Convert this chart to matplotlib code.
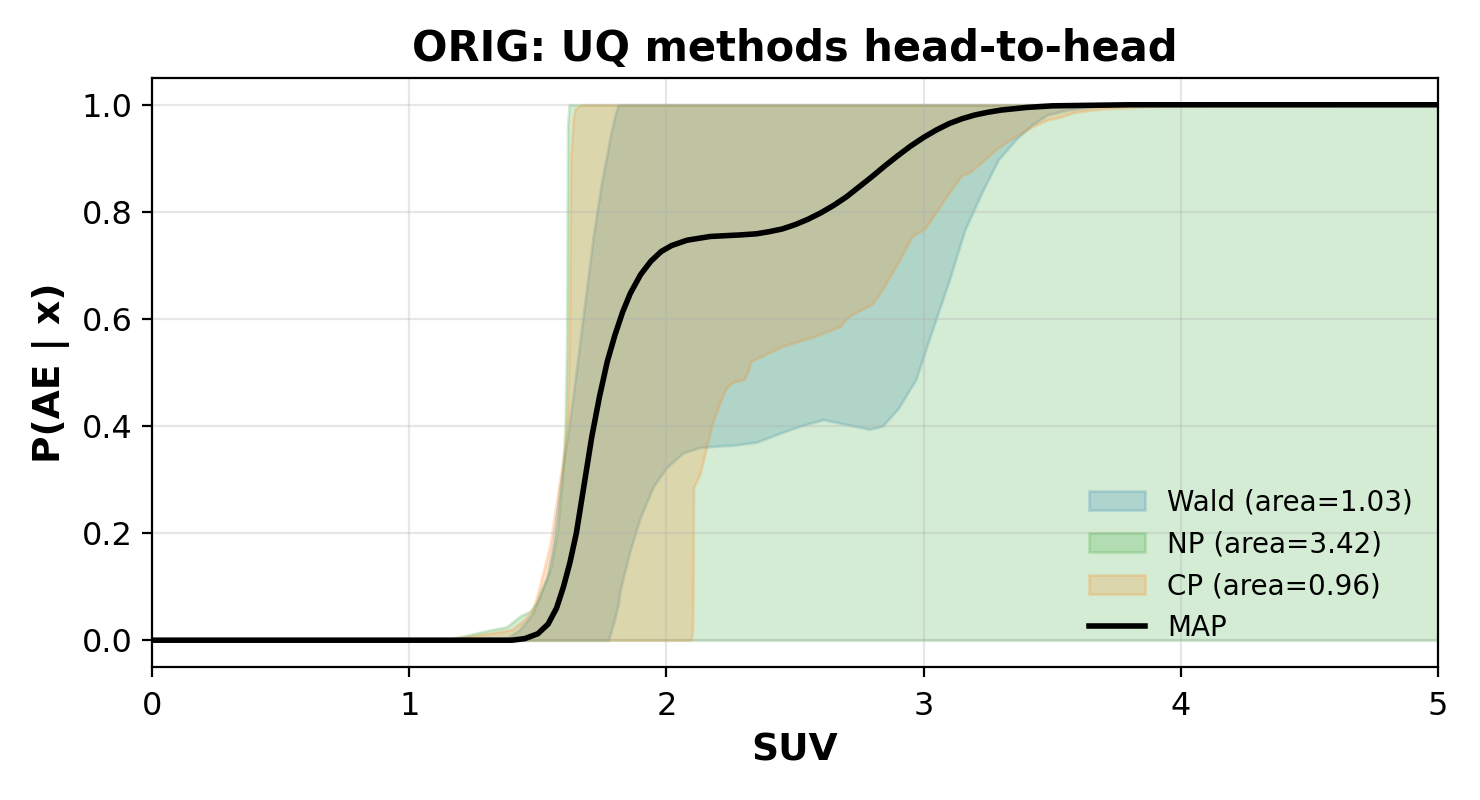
import matplotlib
matplotlib.use("Agg")
import matplotlib.pyplot as plt

# ---------------- data ----------------
# MAP curve
map_x = [0.0, 1.0, 1.40, 1.45, 1.50, 1.54, 1.573, 1.60, 1.625, 1.65, 1.68, 1.71, 1.74,
         1.77, 1.80, 1.83, 1.86, 1.90, 1.94, 1.98, 2.02, 2.08, 2.17, 2.29, 2.35, 2.40,
         2.45, 2.50, 2.55, 2.60, 2.65, 2.70, 2.75, 2.80, 2.85, 2.90, 2.95, 3.00, 3.05,
         3.10, 3.15, 3.20, 3.25, 3.30, 3.40, 3.50, 3.65, 3.80, 5.0]
map_y = [0.0, 0.0, 0.0, 0.003, 0.012, 0.03, 0.06, 0.10, 0.145, 0.20, 0.29, 0.38, 0.455,
         0.52, 0.57, 0.613, 0.648, 0.683, 0.708, 0.726, 0.737, 0.747, 0.754, 0.757, 0.759, 0.763,
         0.768, 0.776, 0.786, 0.798, 0.812, 0.828, 0.847, 0.866, 0.886, 0.905, 0.923, 0.939, 0.953,
         0.965, 0.974, 0.981, 0.986, 0.990, 0.995, 0.998, 0.999, 1.0, 1.0]

# Wald band
wald_x = [0.0, 1.30, 1.38, 1.43, 1.48, 1.535, 1.56, 1.59, 1.619, 1.638, 1.664, 1.69,
          1.716, 1.748, 1.774, 1.781, 1.80, 1.813, 1.82, 1.858, 1.897, 1.949, 2.0, 2.065,
          2.13, 2.208, 2.26, 2.35, 2.45, 2.52, 2.61, 2.68, 2.79, 2.84, 2.90, 2.97, 3.03,
          3.10, 3.16, 3.23, 3.29, 3.36, 3.42, 3.48, 3.556, 3.66, 3.80, 5.0]
wald_hi = [0.0, 0.0, 0.003, 0.02, 0.05, 0.115, 0.18, 0.30, 0.393, 0.459, 0.558, 0.657,
           0.756, 0.855, 0.92, 0.94, 0.98, 1.0, 1.0, 1.0, 1.0, 1.0, 1.0, 1.0,
           1.0, 1.0, 1.0, 1.0, 1.0, 1.0, 1.0, 1.0, 1.0, 1.0, 1.0, 1.0, 1.0,
           1.0, 1.0, 1.0, 1.0, 1.0, 1.0, 1.0, 1.0, 1.0, 1.0, 1.0]
wald_lo = [0.0, 0.0, 0.0, 0.0, 0.0, 0.0, 0.0, 0.0, 0.0, 0.0, 0.0, 0.0,
           0.0, 0.0, 0.0, 0.010, 0.042, 0.068, 0.093, 0.166, 0.227, 0.287, 0.322, 0.35,
           0.36, 0.363, 0.364, 0.370, 0.388, 0.400, 0.412, 0.405, 0.394, 0.400, 0.432, 0.487, 0.574,
           0.673, 0.766, 0.840, 0.897, 0.936, 0.962, 0.981, 0.990, 0.997, 1.0, 1.0]

# NP band
np_x = [0.0, 1.10, 1.16, 1.25, 1.314, 1.379, 1.431, 1.47, 1.497, 1.52, 1.55, 1.575,
        1.595, 1.606, 1.612, 1.616, 1.622, 5.0]
np_hi = [0.0, 0.0, 0.002, 0.012, 0.019, 0.025, 0.045, 0.054, 0.072, 0.10, 0.134, 0.20,
         0.30, 0.40, 0.55, 0.96, 1.0, 1.0]
np_lo = [0.0] * len(np_x)

# CP band
cp_x = [0.0, 1.12, 1.20, 1.314, 1.40, 1.44, 1.47, 1.483, 1.508, 1.547, 1.567, 1.586,
        1.606, 1.615, 1.622, 1.628, 1.638, 1.645, 1.67, 2.096, 2.102, 2.106, 2.13,
        2.156, 2.176, 2.205, 2.234, 2.26, 2.303, 2.316, 2.329, 2.452, 2.58, 2.677,
        2.697, 2.71, 2.80, 2.839, 2.903, 2.955, 2.968, 3.006, 3.045, 3.097, 3.148,
        3.181, 3.226, 3.29, 3.355, 3.426, 3.484, 3.53, 3.587, 3.686, 3.88, 5.0]
cp_hi = [0.0, 0.0, 0.005, 0.013, 0.02, 0.035, 0.05, 0.06, 0.103, 0.177, 0.24, 0.30,
         0.364, 0.426, 0.55, 0.90, 0.975, 0.992, 1.0, 1.0, 1.0, 1.0, 1.0,
         1.0, 1.0, 1.0, 1.0, 1.0, 1.0, 1.0, 1.0, 1.0, 1.0, 1.0,
         1.0, 1.0, 1.0, 1.0, 1.0, 1.0, 1.0, 1.0, 1.0, 1.0, 1.0,
         1.0, 1.0, 1.0, 1.0, 1.0, 1.0, 1.0, 1.0, 1.0, 1.0, 1.0]
cp_lo = [0.0, 0.0, 0.0, 0.0, 0.0, 0.0, 0.0, 0.0, 0.0, 0.0, 0.0, 0.0,
         0.0, 0.0, 0.0, 0.0, 0.0, 0.0, 0.0, 0.0, 0.02, 0.285, 0.31,
         0.36, 0.40, 0.44, 0.472, 0.482, 0.487, 0.50, 0.521, 0.549, 0.568, 0.586,
         0.599, 0.605, 0.628, 0.654, 0.707, 0.754, 0.758, 0.769, 0.797, 0.834, 0.868,
         0.874, 0.893, 0.920, 0.940, 0.960, 0.972, 0.977, 0.986, 0.992, 0.997, 1.0]

labels = ["Wald (area=1.03)", "NP (area=3.42)", "CP (area=0.96)", "MAP"]
colors = ["tab:blue", "tab:green", "tab:orange"]

# ---------------- plot ----------------
fig = plt.figure(figsize=(7.4, 4.0), dpi=200)
ax = fig.add_axes([0.1027, 0.1663, 0.8689, 0.7362])

ax.fill_between(wald_x, wald_lo, wald_hi, color=colors[0], alpha=0.2, label=labels[0])
ax.fill_between(np_x, np_lo, np_hi, color=colors[1], alpha=0.2, label=labels[1])
ax.fill_between(cp_x, cp_lo, cp_hi, color=colors[2], alpha=0.2, label=labels[2])
ax.plot(map_x, map_y, color="black", lw=2, label=labels[3])

ax.set_xlim(0, 5)
ax.set_ylim(-0.05, 1.05)
ax.set_xticks([0, 1, 2, 3, 4, 5])
ax.set_yticks([0.0, 0.2, 0.4, 0.6, 0.8, 1.0])
ax.tick_params(labelsize=11.5)
ax.tick_params(axis="x", pad=5)
ax.grid(True, alpha=0.3)

ax.set_title("ORIG: UQ methods head-to-head", fontsize=15, fontweight="bold")
ax.set_xlabel("SUV", fontsize=13.5, fontweight="bold")
ax.set_ylabel("P(AE | x)", fontsize=13.5, fontweight="bold")

ax.legend(loc="lower right", frameon=False, fontsize=10)

fig.savefig("out.png", dpi=200)
